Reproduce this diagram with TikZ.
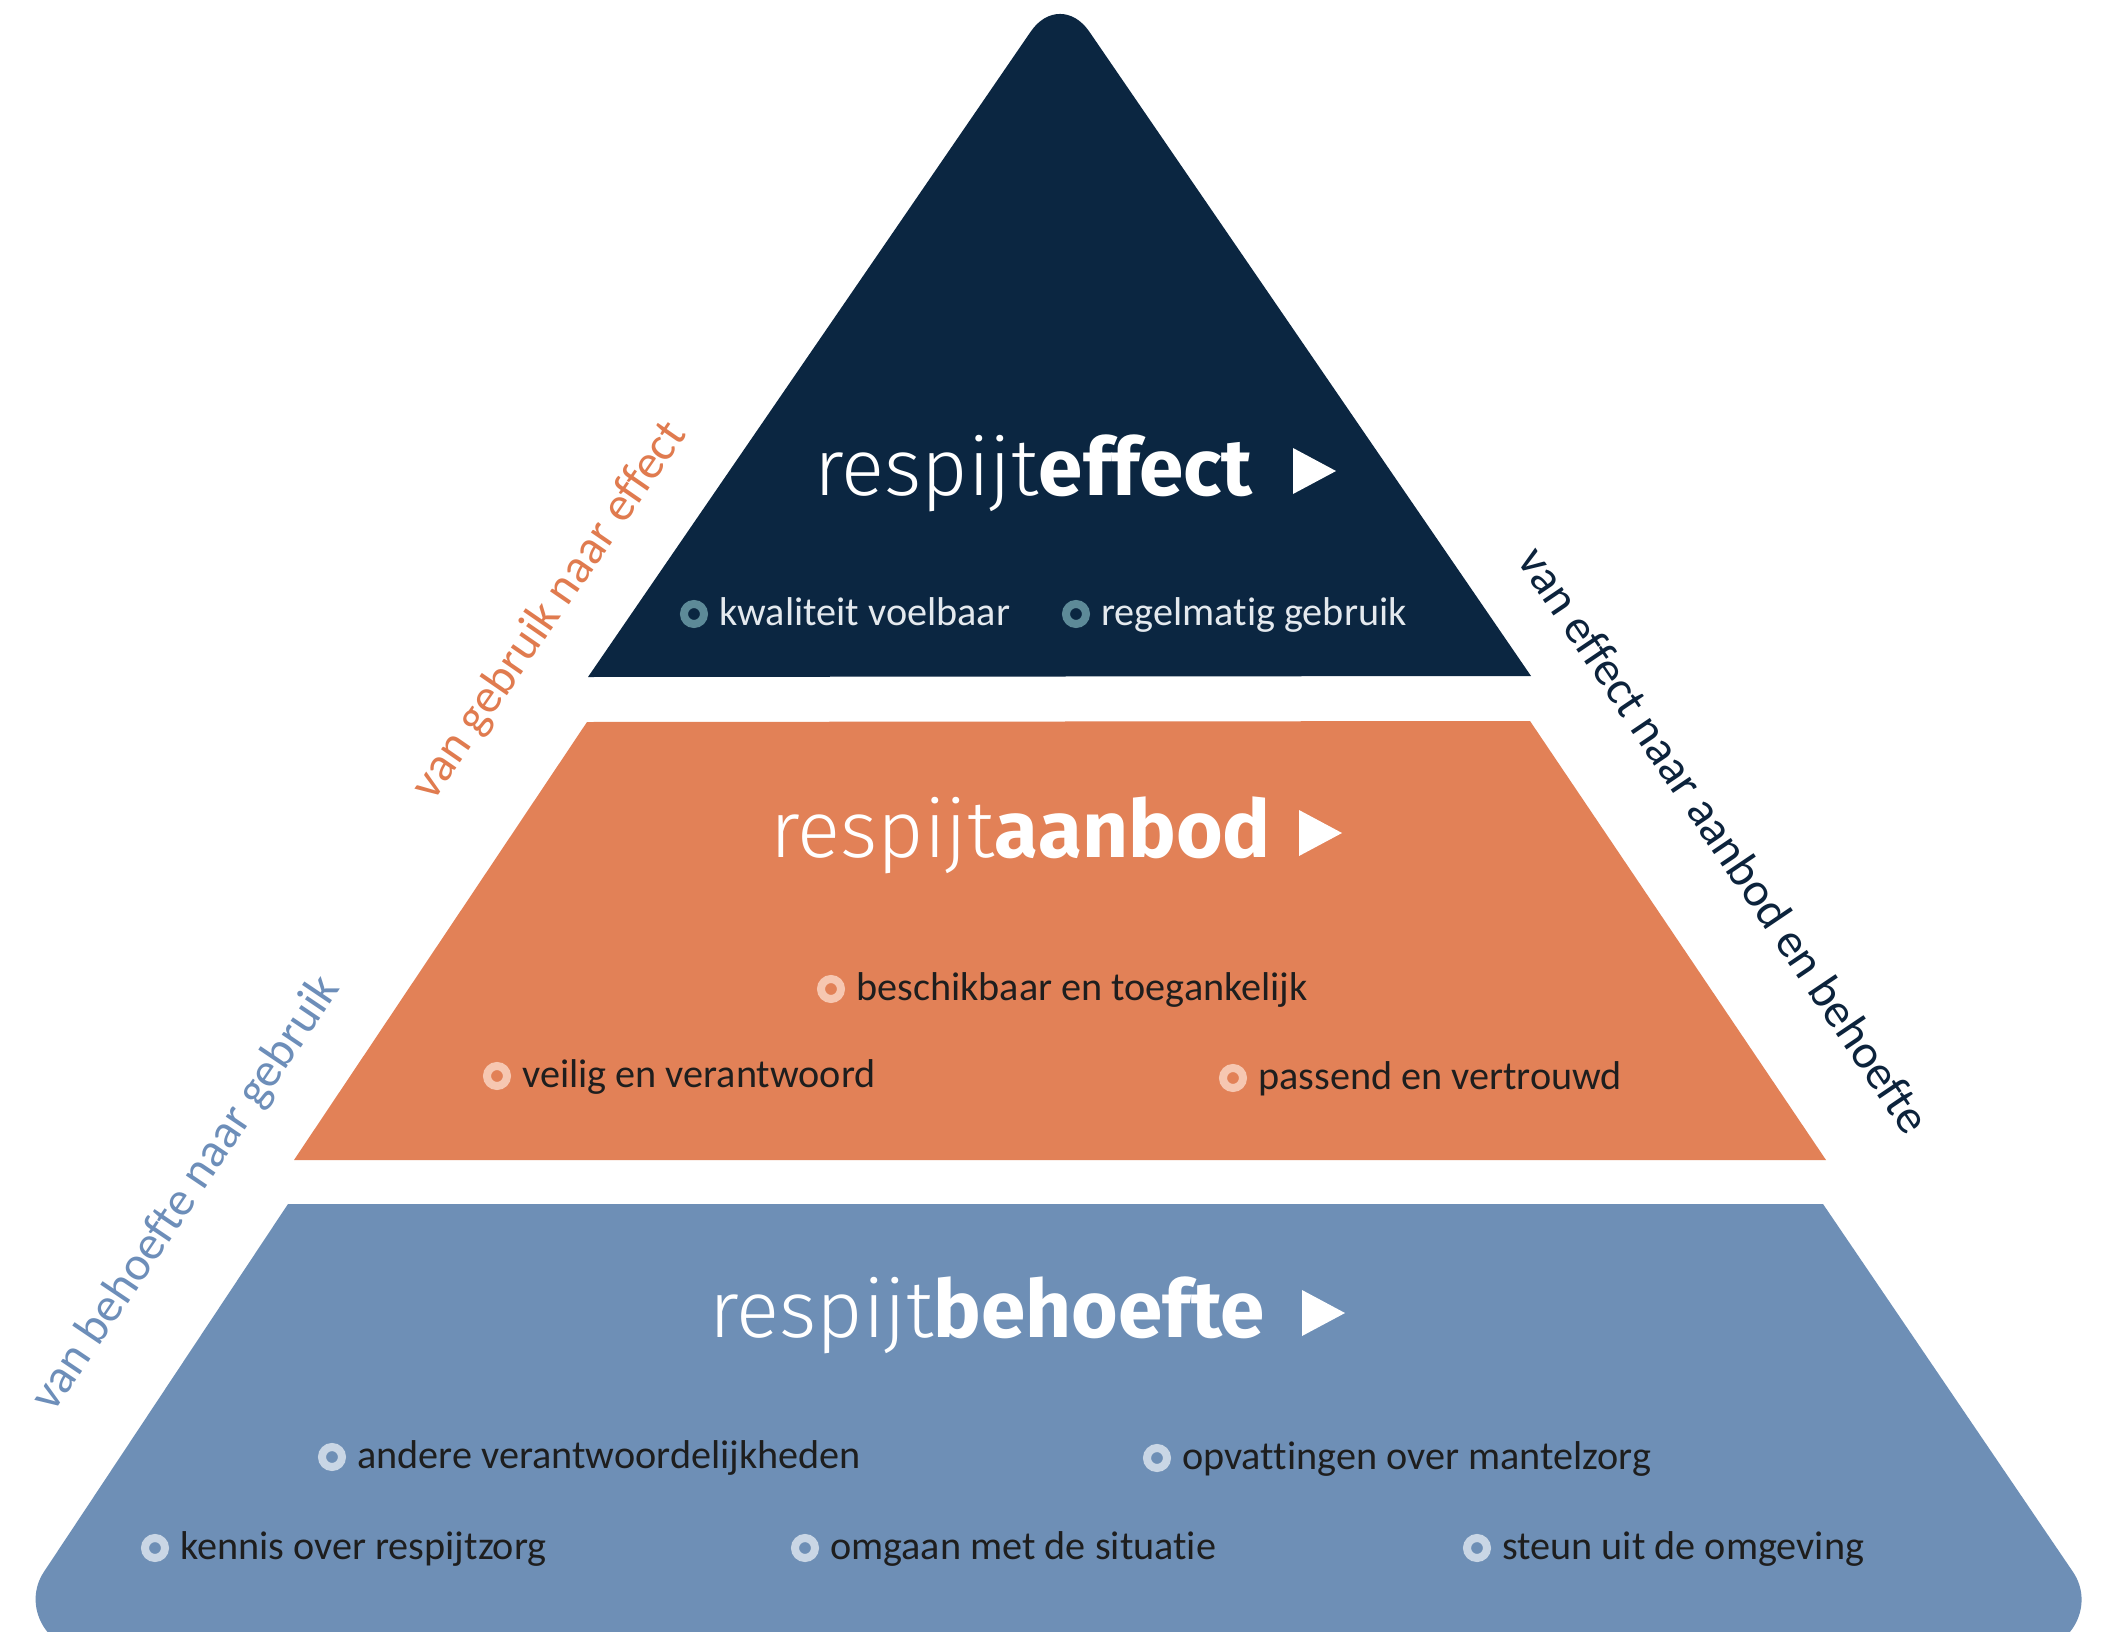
\documentclass[tikz,border=0pt]{standalone}
\usepackage{fontspec}
\setmainfont{Fira Sans}[Ligatures=NoCommon]
\newfontfamily\lightfont{Fira Sans Light}[Ligatures=NoCommon]
\newfontfamily\labelfont{Carlito}[Ligatures=NoCommon]
\definecolor{navy}{HTML}{0B2641}
\definecolor{orng}{HTML}{E28157}
\definecolor{blu}{HTML}{6E8FB6}
\definecolor{ringnavy}{HTML}{5D8A98}
\definecolor{ringorng}{HTML}{F6C7B1}
\definecolor{ringblu}{HTML}{C9D6E5}
\definecolor{txtdark}{HTML}{1E1E1E}
\definecolor{txtlight}{HTML}{E4E9EE}
\definecolor{lblorng}{HTML}{E07B4F}
\definecolor{lblblu}{HTML}{6D8EB9}
\definecolor{lblnavy}{HTML}{0C233C}
\newcommand{\ringitem}[7]{%
  \node[ringdot, draw=#4, fill=#5] (#1r) at (#2,#3) {};
  \node[item, text=#6] (#1) at (#2+25,#3+11) {#7};}
\begin{document}
\begin{tikzpicture}[x=1pt,y=-1pt,
  title/.style={text=white, font=\fontsize{80}{96}\selectfont, anchor=base west, inner sep=0pt},
  item/.style={font=\labelfont\fontsize{40.2}{48}\selectfont, anchor=base west, inner sep=0pt},
  side/.style={font=\labelfont\fontsize{48}{58}\selectfont, inner sep=0pt},
  ringdot/.style={circle, line width=8pt, minimum size=20pt, inner sep=0pt}]
\useasboundingbox (0,0) rectangle (2106,1632);
\fill[white] (0,0) rectangle (2106,1632);
\clip (0,0) rectangle (2106,1632);
% tiers
\fill[navy] (588,677) -- (1030.8,31.5) .. controls (1046.9,8.1) and (1073.1,8.1) .. (1089.2,31.5) -- (1531,676) -- cycle;
\fill[orng] (587,722) -- (1530,721) -- (1826,1160) -- (294,1160) -- cycle;
\fill[blu] (288,1204) -- (1823,1204) -- (2072.9,1571.8) .. controls (2095.4,1604.9) and (2071.5,1650) .. (2031.5,1650) -- (86,1650) .. controls (46,1650) and (21.9,1605) .. (44,1571.7) -- cycle;
% titles
\node[title] (t1) at (814,495) {{\lightfont respijt}\textbf{ef\kern0ptfect}};
\fill[white] (1293,448) -- (1336,471) -- (1293,494) -- cycle;
\node[title] (t2) at (770,857) {{\lightfont respijt}\textbf{aanbod}};
\fill[white] (1299,810) -- (1342,833) -- (1299,856) -- cycle;
\node[title] (t3) at (709,1337) {{\lightfont respijt}\textbf{behoef\kern0ptte}};
\fill[white] (1302,1290) -- (1345,1313) -- (1302,1336) -- cycle;
% items
\ringitem{i1}{694}{614}{ringnavy}{navy}{txtlight}{kwaliteit voelbaar}
\ringitem{i2}{1076}{614}{ringnavy}{navy}{txtlight}{regelmatig gebruik}
\ringitem{i3}{831}{989}{ringorng}{orng}{txtdark}{beschikbaar en toegankelijk}
\ringitem{i4}{497}{1076}{ringorng}{orng}{txtdark}{veilig en verantwoord}
\ringitem{i5}{1233}{1078}{ringorng}{orng}{txtdark}{passend en vertrouwd}
\ringitem{i6}{332}{1457}{ringblu}{blu}{txtdark}{andere verantwoordelijkheden}
\ringitem{i7}{1157}{1458}{ringblu}{blu}{txtdark}{opvattingen over mantelzorg}
\ringitem{i8}{155}{1548}{ringblu}{blu}{txtdark}{kennis over respijtzorg}
\ringitem{i9}{805}{1548}{ringblu}{blu}{txtdark}{omgaan met de situatie}
\ringitem{i10}{1477}{1548}{ringblu}{blu}{txtdark}{steun uit de omgeving}
% side labels
\node[side, text=lblorng, rotate=55.4] (s1) at (550,611) {van gebruik naar effect};
\node[side, text=lblblu, rotate=56] (s2) at (187,1194) {van behoefte naar gebruik};
\node[side, text=lblnavy, rotate=-56] (s3) at (1725,840) {van effect naar aanbod en behoefte};
\end{tikzpicture}
\end{document}
